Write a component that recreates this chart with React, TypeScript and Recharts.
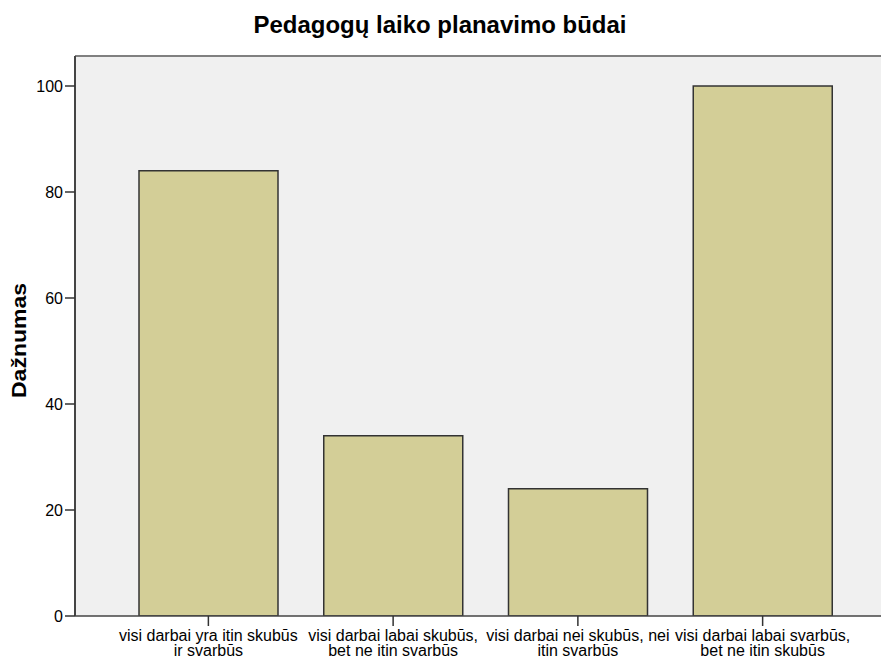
import { BarChart, Bar, XAxis, YAxis, CartesianGrid, ReferenceLine } from 'recharts';

// Category labels (two lines each) and frequencies
const CATEGORIES = [
  ['visi darbai yra itin skubūs', 'ir svarbūs'],
  ['visi darbai labai skubūs,', 'bet ne itin svarbūs'],
  ['visi darbai nei skubūs, nei', 'itin svarbūs'],
  ['visi darbai labai svarbūs,', 'bet ne itin skubūs'],
];
const FREQUENCIES = [84, 34, 24, 100];
const Y_TICKS = [0, 20, 40, 60, 80, 100];
const Y_MAX = 105.66;
const TITLE = 'Pedagogų laiko planavimo būdai';
const Y_LABEL = 'Dažnumas';

const FONT = '"Liberation Sans", Arial, sans-serif';

const data = CATEGORIES.map((lines, i) => ({
  name: lines.join('\n'),
  value: FREQUENCIES[i],
}));

function CategoryTick({ x, y, payload }: any) {
  const lines = String(payload.value).split('\n');
  return (
    <g transform={`translate(${x},${y})`}>
      {lines.map((line, i) => (
        <text
          key={i}
          x={0}
          y={13 + i * 15}
          textAnchor="middle"
          fill="#000"
          fontSize={16}
          fontFamily={FONT}
        >
          {line}
        </text>
      ))}
    </g>
  );
}

export default function App() {
  return (
    <div
      style={{
        position: 'absolute',
        left: 0,
        top: 0,
        width: 881,
        height: 659,
        overflow: 'hidden',
        background: '#fff',
      }}
    >
      <BarChart
        width={900}
        height={659}
        data={data}
        margin={{ top: 56, right: 4, left: 0, bottom: 0 }}
        barSize={139}
      >
        <CartesianGrid fill="#f0f0f0" horizontal={false} vertical={false} />
        <ReferenceLine y={Y_MAX} stroke="#808080" strokeWidth={2} ifOverflow="extendDomain" />
        <XAxis
          dataKey="name"
          height={43}
          interval={0}
          padding={{ left: 41, right: 41 }}
          axisLine={{ stroke: '#444', strokeWidth: 1.5 }}
          tickLine={{ stroke: '#333', strokeWidth: 1.5 }}
          tickSize={10}
          tick={<CategoryTick />}
        />
        <YAxis
          width={75}
          domain={[0, Y_MAX]}
          ticks={Y_TICKS}
          allowDataOverflow
          axisLine={{ stroke: '#444', strokeWidth: 2 }}
          tickLine={{ stroke: '#333', strokeWidth: 1.5 }}
          tickSize={10}
          tickMargin={2}
          tick={{ fill: '#000', fontSize: 16, fontFamily: FONT }}
        />
        <Bar
          dataKey="value"
          fill="#d3ce97"
          stroke="#333"
          strokeWidth={1.5}
          isAnimationActive={false}
        />
      </BarChart>
      <svg
        width={881}
        height={659}
        style={{ position: 'absolute', left: 0, top: 0, pointerEvents: 'none' }}
      >
        <text
          x={440}
          y={33}
          textAnchor="middle"
          fontFamily={FONT}
          fontWeight="bold"
          fontSize={23}
          textLength={373}
          lengthAdjust="spacingAndGlyphs"
        >
          {TITLE}
        </text>
        <text
          transform="translate(26,340.5) rotate(-90)"
          textAnchor="middle"
          fontFamily={FONT}
          fontWeight="bold"
          fontSize={21}
          textLength={115}
          lengthAdjust="spacingAndGlyphs"
        >
          {Y_LABEL}
        </text>
      </svg>
    </div>
  );
}
